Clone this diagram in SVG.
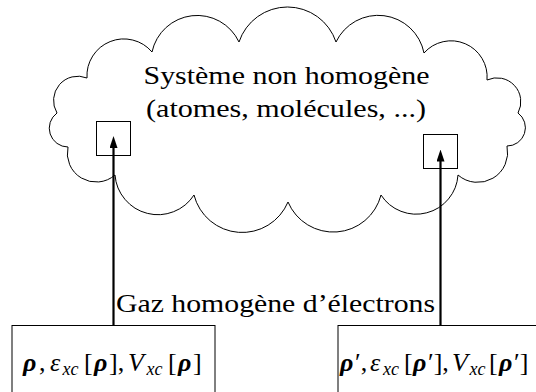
<svg xmlns="http://www.w3.org/2000/svg" width="536" height="392" viewBox="0 0 536 392">
<style>
text{font-family:'Liberation Serif','Times New Roman',serif;font-size:26px;fill:#000}
.i{font-style:italic}
.b{font-weight:bold;font-style:italic}
.s{font-size:18px;font-style:italic}
.thin{fill:none;stroke:#000;stroke-width:1}
.arr{fill:none;stroke:#000;stroke-width:2.2}
</style>
<defs>
<marker id="ah" markerUnits="userSpaceOnUse" markerWidth="12" markerHeight="8" refX="2" refY="4" orient="auto">
<path d="M0,0 L12,4 L0,8 z" fill="#000"/>
</marker>
</defs>
<rect width="536" height="392" fill="#fff"/>
<g id="cloud">
<path class="thin" d="M57,113 A24.3,24.3 0 0 1 87,78 A36.9,36.9 0 0 1 152,52 A46.2,46.2 0 0 1 239,42 A51.1,51.1 0 0 1 336,42 A46.7,46.7 0 0 1 424,53 A36.1,36.1 0 0 1 487,80 A23.9,23.9 0 0 1 518,113 A18.3,18.3 0 0 1 507,146 A30,30 0 0 1 458,175 A41.9,41.9 0 0 1 381,195 A49.2,49.2 0 0 1 288,202 A49.7,49.7 0 0 1 194,195 A43,43 0 0 1 115,175 A28.8,28.8 0 0 1 68,147 A18.8,18.8 0 0 1 57,113 Z"/>
<text x="143.5" y="83.5" textLength="286" lengthAdjust="spacingAndGlyphs">Système non homogène</text>
<text x="146" y="116.5" textLength="280" lengthAdjust="spacingAndGlyphs">(atomes, molécules, ...)</text>
</g>
<g id="sq1"><rect class="thin" x="96.5" y="121.5" width="34" height="34"/></g>
<g id="sq2"><rect class="thin" x="423.5" y="134.5" width="34" height="34"/></g>
<g id="box1">
<rect class="thin" x="12" y="325.5" width="203" height="80"/>
<text y="371"><tspan class="b" x="23">ρ</tspan><tspan x="39">,</tspan><tspan class="i" x="50">ε</tspan><tspan class="s" x="62.5" dy="3.5">xc</tspan><tspan x="84" dy="-3.5">[</tspan><tspan class="b" x="94">ρ</tspan><tspan x="109">],</tspan><tspan class="i" x="128">V</tspan><tspan class="s" x="146.5" dy="3.5">xc</tspan><tspan x="168" dy="-3.5">[</tspan><tspan class="b" x="178">ρ</tspan><tspan x="193">]</tspan></text>
</g>
<g id="box2">
<rect class="thin" x="338" y="325.5" width="220" height="80"/>
<text y="371"><tspan class="b" x="340">ρ</tspan><tspan x="355">′,</tspan><tspan class="i" x="370">ε</tspan><tspan class="s" x="383" dy="3.5">xc</tspan><tspan x="404" dy="-3.5">[</tspan><tspan class="b" x="413">ρ</tspan><tspan x="428">′],</tspan><tspan class="i" x="452">V</tspan><tspan class="s" x="469.5" dy="3.5">xc</tspan><tspan x="489" dy="-3.5">[</tspan><tspan class="b" x="499">ρ</tspan><tspan x="514">′]</tspan></text>
</g>
<g id="label"><text x="116" y="312" textLength="319" lengthAdjust="spacingAndGlyphs">Gaz homogène d’électrons</text></g>
<g id="connectors">
<line class="arr" x1="113.5" y1="325.5" x2="113.5" y2="146" marker-end="url(#ah)"/>
<line class="arr" x1="440.5" y1="325.5" x2="440.5" y2="159.5" marker-end="url(#ah)"/>
</g>
</svg>
